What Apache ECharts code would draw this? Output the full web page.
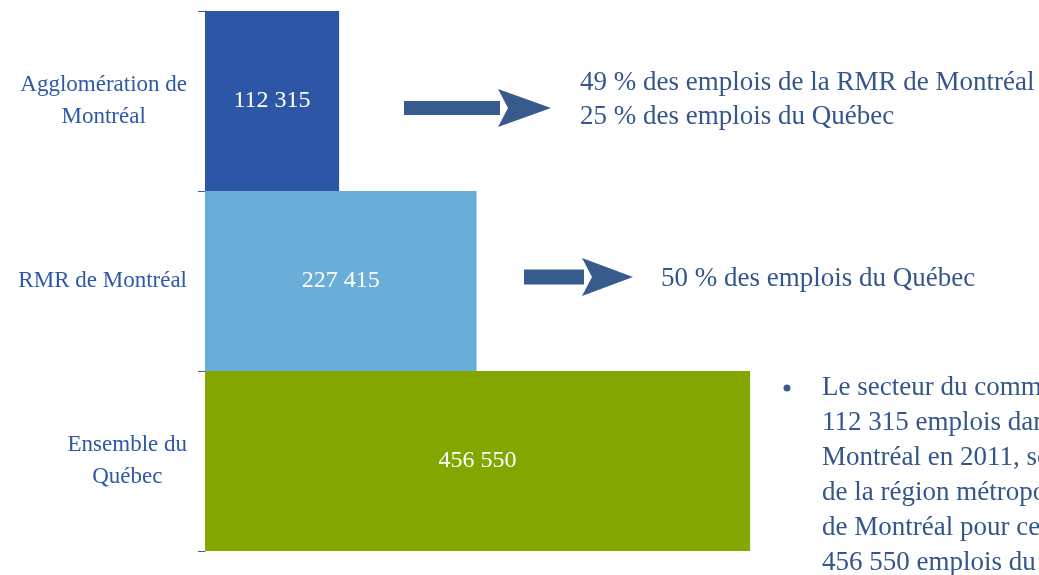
<!DOCTYPE html>
<html>
<head>
<meta charset="utf-8">
<script src="https://cdn.jsdelivr.net/npm/echarts@6/dist/echarts.min.js"></script>
<style>
  html, body { margin: 0; padding: 0; background: #fff; }
  #chart { width: 1039px; height: 575px; }
</style>
</head>
<body>
<div id="chart"></div>
<script>
// données
const categories = ['Agglomération de\nMontréal', 'RMR de Montréal', 'Ensemble du\nQuébec'];
const emplois = [112315, 227415, 456550];
const couleurs = ['#2E56A6', '#6AADD8', '#84A600'];
const notesAgglo = ['49 % des emplois de la RMR de Montréal', '25 % des emplois du Québec'];
const noteRmr = '50 % des emplois du Québec';
const puceLignes = [
  'Le secteur du commerce',
  '112 315 emplois dans',
  'Montréal en 2011, soit',
  'de la région métropolitaine',
  'de Montréal pour ce',
  '456 550 emplois du Québec'
];

const FONT = '"Liberation Serif", "DejaVu Serif", serif';
const BLEU_TXT = '#34568B';

function fmt(v) {
  return String(v).replace(/\B(?=(\d{3})+(?!\d))/g, ' ');
}

let myChart = echarts.init(document.getElementById('chart'));

// flèche = rectangle + triangle
function fleche(x0, xb, xt, yc, hs, hh) {
  return [
    { type: 'rect', shape: { x: x0, y: yc - hs / 2, width: xb - x0, height: hs }, style: { fill: '#375B8D' } },
    { type: 'polygon', shape: { points: [[xb - 2, yc - hh / 2], [xt, yc], [xb - 2, yc + hh / 2], [xb + 8, yc]] }, style: { fill: '#375B8D' } }
  ];
}

const graphics = []
  .concat(fleche(404, 500, 551, 108, 14, 38))
  .concat(fleche(524, 584, 633, 277, 15, 38));

notesAgglo.forEach((t, i) => {
  graphics.push({ type: 'text', left: 580, top: 69 + i * 34,
    style: { text: t, font: '27px ' + FONT, fill: BLEU_TXT } });
});
graphics.push({ type: 'text', left: 661, top: 265,
  style: { text: noteRmr, font: '27px ' + FONT, fill: BLEU_TXT } });
graphics.push({ type: 'circle', shape: { cx: 787, cy: 388, r: 3.5 }, style: { fill: '#375B8D' } });
puceLignes.forEach((t, i) => {
  graphics.push({ type: 'text', x: 822, y: 374 + i * 35,
    style: { text: t, font: '27px ' + FONT, fill: BLEU_TXT } });
});

const option = {
  animation: false,
  grid: { left: 205, top: 11, height: 540, width: 597 },
  xAxis: {
    type: 'value', min: 0, max: 500000,
    show: false
  },
  yAxis: {
    type: 'category',
    inverse: true,
    data: categories,
    axisLine: { show: true, lineStyle: { color: '#3A5FA8', width: 1 } },
    axisTick: { show: true, length: 7, lineStyle: { color: '#3A5FA8' } },
    axisLabel: {
      margin: 18,
      formatter: v => v.split('\n').map(s => '{c|' + s + '}').join('\n'),
      rich: {
        c: { fontFamily: FONT, fontSize: 23, color: '#2F58A8', align: 'center', lineHeight: 32 }
      }
    }
  },
  series: [{
    type: 'bar',
    data: emplois.map((v, i) => ({ value: v, itemStyle: { color: couleurs[i] } })),
    barCategoryGap: 0,
    label: {
      show: true, position: 'inside',
      color: '#fff', fontFamily: FONT, fontSize: 24,
      formatter: p => fmt(p.value)
    }
  }],
  graphic: graphics
};
myChart.setOption(option);
</script>
</body>
</html>
